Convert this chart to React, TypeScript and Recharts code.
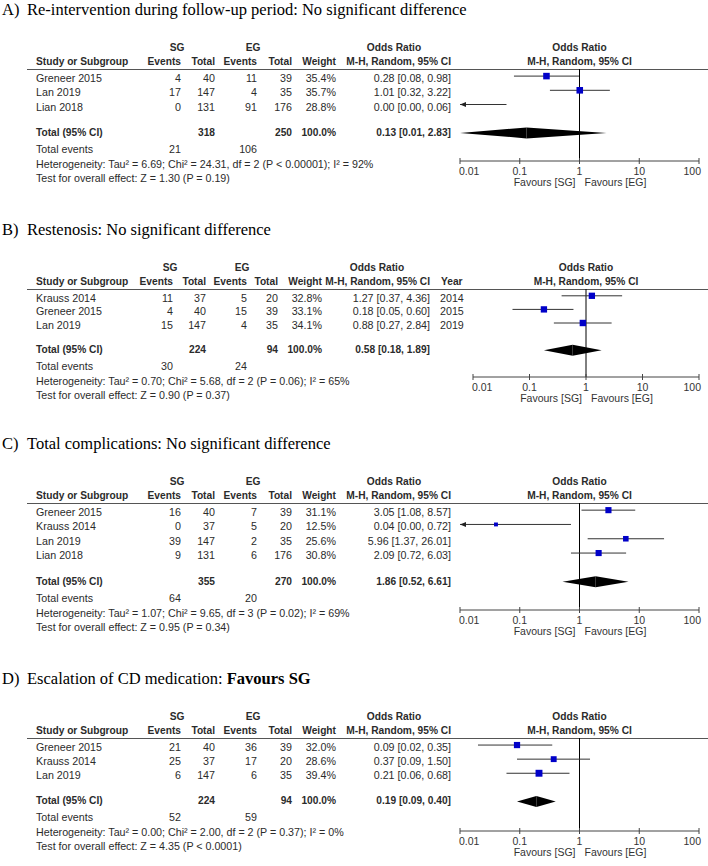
import React from "react";
import { ComposedChart, XAxis, YAxis, Scatter, ReferenceLine } from "recharts";

type Study = {
  name: string;
  sgE: number;
  sgT: number;
  egE: number;
  egT: number;
  w: number;
  or: number;
  lo: number;
  hi: number;
  year?: number;
};

type Total = { sgT: number; egT: number; or: number; lo: number; hi: number; sgE: number; egE: number };

// --- data ---
const studiesA: Study[] = [
  { name: "Greneer 2015", sgE: 4, sgT: 40, egE: 11, egT: 39, w: 35.4, or: 0.28, lo: 0.08, hi: 0.98 },
  { name: "Lan 2019", sgE: 17, sgT: 147, egE: 4, egT: 35, w: 35.7, or: 1.01, lo: 0.32, hi: 3.22 },
  { name: "Lian 2018", sgE: 0, sgT: 131, egE: 91, egT: 176, w: 28.8, or: 0.0, lo: 0.0, hi: 0.06 },
];
const totalA: Total = { sgT: 318, egT: 250, or: 0.13, lo: 0.01, hi: 2.83, sgE: 21, egE: 106 };

const studiesB: Study[] = [
  { name: "Krauss 2014", sgE: 11, sgT: 37, egE: 5, egT: 20, w: 32.8, or: 1.27, lo: 0.37, hi: 4.36, year: 2014 },
  { name: "Greneer 2015", sgE: 4, sgT: 40, egE: 15, egT: 39, w: 33.1, or: 0.18, lo: 0.05, hi: 0.6, year: 2015 },
  { name: "Lan 2019", sgE: 15, sgT: 147, egE: 4, egT: 35, w: 34.1, or: 0.88, lo: 0.27, hi: 2.84, year: 2019 },
];
const totalB: Total = { sgT: 224, egT: 94, or: 0.58, lo: 0.18, hi: 1.89, sgE: 30, egE: 24 };

const studiesC: Study[] = [
  { name: "Greneer 2015", sgE: 16, sgT: 40, egE: 7, egT: 39, w: 31.1, or: 3.05, lo: 1.08, hi: 8.57 },
  { name: "Krauss 2014", sgE: 0, sgT: 37, egE: 5, egT: 20, w: 12.5, or: 0.04, lo: 0.0, hi: 0.72 },
  { name: "Lan 2019", sgE: 39, sgT: 147, egE: 2, egT: 35, w: 25.6, or: 5.96, lo: 1.37, hi: 26.01 },
  { name: "Lian 2018", sgE: 9, sgT: 131, egE: 6, egT: 176, w: 30.8, or: 2.09, lo: 0.72, hi: 6.03 },
];
const totalC: Total = { sgT: 355, egT: 270, or: 1.86, lo: 0.52, hi: 6.61, sgE: 64, egE: 20 };

const studiesD: Study[] = [
  { name: "Greneer 2015", sgE: 21, sgT: 40, egE: 36, egT: 39, w: 32.0, or: 0.09, lo: 0.02, hi: 0.35 },
  { name: "Krauss 2014", sgE: 25, sgT: 37, egE: 17, egT: 20, w: 28.6, or: 0.37, lo: 0.09, hi: 1.5 },
  { name: "Lan 2019", sgE: 6, sgT: 147, egE: 6, egT: 35, w: 39.4, or: 0.21, lo: 0.06, hi: 0.68 },
];
const totalD: Total = { sgT: 224, egT: 94, or: 0.19, lo: 0.09, hi: 0.4, sgE: 52, egE: 59 };

const hetText = [
  "Heterogeneity: Tau² = 6.69; Chi² = 24.31, df = 2 (P < 0.00001); I² = 92%",
  "Heterogeneity: Tau² = 0.70; Chi² = 5.68, df = 2 (P = 0.06); I² = 65%",
  "Heterogeneity: Tau² = 1.07; Chi² = 9.65, df = 3 (P = 0.02); I² = 69%",
  "Heterogeneity: Tau² = 0.00; Chi² = 2.00, df = 2 (P = 0.37); I² = 0%",
];
const testText = [
  "Test for overall effect: Z = 1.30 (P = 0.19)",
  "Test for overall effect: Z = 0.90 (P = 0.37)",
  "Test for overall effect: Z = 0.95 (P = 0.34)",
  "Test for overall effect: Z = 4.35 (P < 0.0001)",
];
const orTicks = [0.01, 0.1, 1, 10, 100];
const tickLabels = ["0.01", "0.1", "1", "10", "100"];

// --- layout ---
const W = 708;
const H = 866;
const SANS = "'Liberation Sans', Arial, sans-serif";
const SERIF = "'Liberation Serif', 'Times New Roman', serif";
const INK = "#2b2b2b";

const colsStd = { ev1: 181, tot1: 215, ev2: 257, tot2: 292, w: 336, or: 451, sg: 177, eg: 253, orHead: 394, year: 0 };
const colsYear = { ev1: 173, tot1: 206, ev2: 247, tot2: 278, w: 322, or: 430, sg: 170, eg: 242, orHead: 377, year: 440 };

const panels = [
  { label: "A)", title: <>Re-intervention during follow-up period: No significant difference</>, studies: studiesA, total: totalA, headerY: 69, axisY: 161, rowH: 14.2, plotLeft: 460, cols: colsStd },
  { label: "B)", title: <>Restenosis: No significant difference</>, studies: studiesB, total: totalB, headerY: 289, axisY: 377, rowH: 13.6, plotLeft: 473, cols: colsYear },
  { label: "C)", title: <>Total complications: No significant difference</>, studies: studiesC, total: totalC, headerY: 503, axisY: 610, rowH: 14.3, plotLeft: 460, cols: colsStd },
  { label: "D)", title: <>Escalation of CD medication: <b>Favours SG</b></>, studies: studiesD, total: totalD, headerY: 738, axisY: 831, rowH: 14.1, plotLeft: 460, cols: colsStd },
];

const fmt = (v: number) => v.toFixed(2);
const ciText = (or: number, lo: number, hi: number) => `${fmt(or)} [${fmt(lo)}, ${fmt(hi)}]`;

type TProps = { x: number; y: number; children: React.ReactNode; align?: "left" | "right" | "center"; bold?: boolean };

const T = ({ x, y, children, align = "left", bold = false }: TProps) => {
  const style: React.CSSProperties = {
    position: "absolute",
    top: y - 7,
    lineHeight: "14px",
    fontSize: bold ? 10.2 : 10.7,
    fontFamily: SANS,
    fontWeight: bold ? 700 : 400,
    whiteSpace: "nowrap",
    color: INK,
  };
  if (align === "left") style.left = x;
  else if (align === "right") style.right = W - x;
  else {
    style.left = x - 100;
    style.width = 200;
    style.textAlign = "center";
  }
  return <div style={style}>{children}</div>;
};

const ORTick = (props: any) => {
  const { x, y, payload, index } = props;
  const v = payload.value;
  const anchor = index === 0 ? "start" : index === orTicks.length - 1 ? "end" : "middle";
  const dx = index === 0 ? -1 : index === orTicks.length - 1 ? 2 : 0;
  const txt = { fontSize: 10.5, fontFamily: SANS, fill: "#333" };
  return (
    <g>
      <line x1={x} x2={x} y1={y - 3} y2={y + 3} stroke="#444" />
      <text x={x + dx} y={y + 14} textAnchor={anchor} {...txt}>
        {tickLabels[index]}
      </text>
      {v === 1 && (
        <>
          <text x={x - 4} y={y + 25} textAnchor="end" {...txt}>Favours [SG]</text>
          <text x={x + 5} y={y + 25} textAnchor="start" {...txt}>Favours [EG]</text>
        </>
      )}
    </g>
  );
};

const Square = (props: any) => {
  const { cx, cy, payload } = props;
  const s = 1.1 * Math.sqrt(payload.w);
  return <rect x={cx - s / 2} y={cy - s / 2} width={s} height={s} fill="#0000C8" />;
};

const ciShape = (arrow: boolean) => (props: any) => {
  const { x1, y1, x2, y2 } = props;
  return (
    <g>
      <line x1={x1} y1={y1} x2={x2} y2={y2} stroke="#333" strokeWidth={1} />
      {arrow && <polygon points={`${x1},${y1} ${x1 + 6},${y1 - 2.5} ${x1 + 6},${y1 + 2.5}`} fill="#222" />}
    </g>
  );
};

const DH = 5.5;
const leftHalf = (props: any) => {
  const { x1, y1, x2 } = props;
  return <polygon points={`${x1},${y1} ${x2},${y1 - DH} ${x2},${y1 + DH}`} fill="#000" />;
};
const rightHalf = (props: any) => {
  const { x1, y1, x2 } = props;
  return <polygon points={`${x1},${y1 - DH} ${x2},${y1} ${x1},${y1 + DH}`} fill="#000" />;
};

function Panel({ p, k }: { p: (typeof panels)[number]; k: number }) {
  const { studies, total, headerY, axisY, rowH, plotLeft, cols } = p;
  const n = studies.length;
  const minOR = orTicks[0];
  const markerY = (i: number) => headerY + 0.5 * rowH + i * rowH;
  const totY = markerY(n + 1);
  const markers = studies.map((s, i) => ({ or: s.or, row: i, w: s.w })).filter((d) => d.or >= minOR);
  const chartLeft = plotLeft - 20;
  const plotH = axisY - headerY;

  return (
    <>
      <div style={{ position: "absolute", left: 2, top: headerY - 59.5 - 10, lineHeight: "20px", fontSize: 16.5, fontFamily: SERIF, color: "#000", whiteSpace: "nowrap" }}>
        {p.label}
      </div>
      <div style={{ position: "absolute", left: 27, top: headerY - 59.5 - 10, lineHeight: "20px", fontSize: 16.5, fontFamily: SERIF, color: "#000", whiteSpace: "nowrap" }}>
        {p.title}
      </div>

      <T x={cols.sg} y={headerY - 21} align="center" bold>SG</T>
      <T x={cols.eg} y={headerY - 21} align="center" bold>EG</T>
      <T x={cols.orHead} y={headerY - 21} align="center" bold>Odds Ratio</T>
      <T x={(plotLeft + 699) / 2} y={headerY - 21} align="center" bold>Odds Ratio</T>
      <T x={36} y={headerY - 7} bold>Study or Subgroup</T>
      <T x={cols.ev1} y={headerY - 7} align="right" bold>Events</T>
      <T x={cols.tot1} y={headerY - 7} align="right" bold>Total</T>
      <T x={cols.ev2} y={headerY - 7} align="right" bold>Events</T>
      <T x={cols.tot2} y={headerY - 7} align="right" bold>Total</T>
      <T x={cols.w} y={headerY - 7} align="right" bold>Weight</T>
      <T x={cols.or} y={headerY - 7} align="right" bold>M-H, Random, 95% CI</T>
      {cols.year > 0 && <T x={cols.year + 1} y={headerY - 7} bold>Year</T>}
      <T x={(plotLeft + 699) / 2} y={headerY - 7} align="center" bold>M-H, Random, 95% CI</T>
      <div style={{ position: "absolute", left: 27, top: headerY, width: W - 27, height: 1, background: "#555" }} />

      {studies.map((s, i) => {
        const y = markerY(i) + 2;
        return (
          <React.Fragment key={s.name}>
            <T x={36} y={y}>{s.name}</T>
            <T x={cols.ev1} y={y} align="right">{s.sgE}</T>
            <T x={cols.tot1} y={y} align="right">{s.sgT}</T>
            <T x={cols.ev2} y={y} align="right">{s.egE}</T>
            <T x={cols.tot2} y={y} align="right">{s.egT}</T>
            <T x={cols.w} y={y} align="right">{s.w.toFixed(1)}%</T>
            <T x={cols.or} y={y} align="right">{ciText(s.or, s.lo, s.hi)}</T>
            {s.year && <T x={cols.year} y={y}>{s.year}</T>}
          </React.Fragment>
        );
      })}

      <T x={36} y={totY} bold>Total (95% CI)</T>
      <T x={cols.tot1} y={totY} align="right" bold>{total.sgT}</T>
      <T x={cols.tot2} y={totY} align="right" bold>{total.egT}</T>
      <T x={cols.w} y={totY} align="right" bold>100.0%</T>
      <T x={cols.or} y={totY} align="right" bold>{ciText(total.or, total.lo, total.hi)}</T>
      <T x={36} y={totY + 16}>Total events</T>
      <T x={cols.ev1} y={totY + 16} align="right">{total.sgE}</T>
      <T x={cols.ev2} y={totY + 16} align="right">{total.egE}</T>
      <T x={36} y={totY + 31}>{hetText[k]}</T>
      <T x={36} y={totY + 45}>{testText[k]}</T>

      <div style={{ position: "absolute", left: chartLeft, top: headerY }}>
        <ComposedChart width={W - chartLeft} height={plotH + 30} margin={{ top: 0, right: 9, bottom: 0, left: 20 }}>
          <XAxis
            type="number"
            dataKey="or"
            scale="log"
            domain={[orTicks[0], orTicks[orTicks.length - 1]]}
            allowDataOverflow
            ticks={orTicks}
            interval={0}
            tickLine={false}
            tickSize={0}
            tickMargin={0}
            axisLine={{ stroke: "#444" }}
            tick={<ORTick />}
            height={30}
          />
          <YAxis type="number" dataKey="row" domain={[-0.5, -0.5 + plotH / rowH]} allowDataOverflow reversed hide />
          <ReferenceLine x={1} stroke="#000" ifOverflow="visible" />
          {studies.map((s, i) =>
            s.hi > minOR ? (
              <ReferenceLine
                key={`ci${i}`}
                ifOverflow="visible"
                segment={[
                  { x: Math.max(s.lo, minOR), y: i },
                  { x: s.hi, y: i },
                ]}
                shape={ciShape(s.lo < minOR)}
              />
            ) : null
          )}
          <ReferenceLine
            ifOverflow="visible"
            segment={[
              { x: Math.max(total.lo, minOR), y: n + 1 },
              { x: total.or, y: n + 1 },
            ]}
            shape={leftHalf}
          />
          <ReferenceLine
            ifOverflow="visible"
            segment={[
              { x: total.or, y: n + 1 },
              { x: total.hi, y: n + 1 },
            ]}
            shape={rightHalf}
          />
          <Scatter data={markers} dataKey="row" shape={Square} isAnimationActive={false} />
        </ComposedChart>
      </div>
    </>
  );
}

export default function App() {
  return (
    <div style={{ position: "absolute", left: 0, top: 0, width: W, height: H, background: "#fff", overflow: "hidden" }}>
      {panels.map((p, k) => (
        <Panel key={p.label} p={p} k={k} />
      ))}
    </div>
  );
}
